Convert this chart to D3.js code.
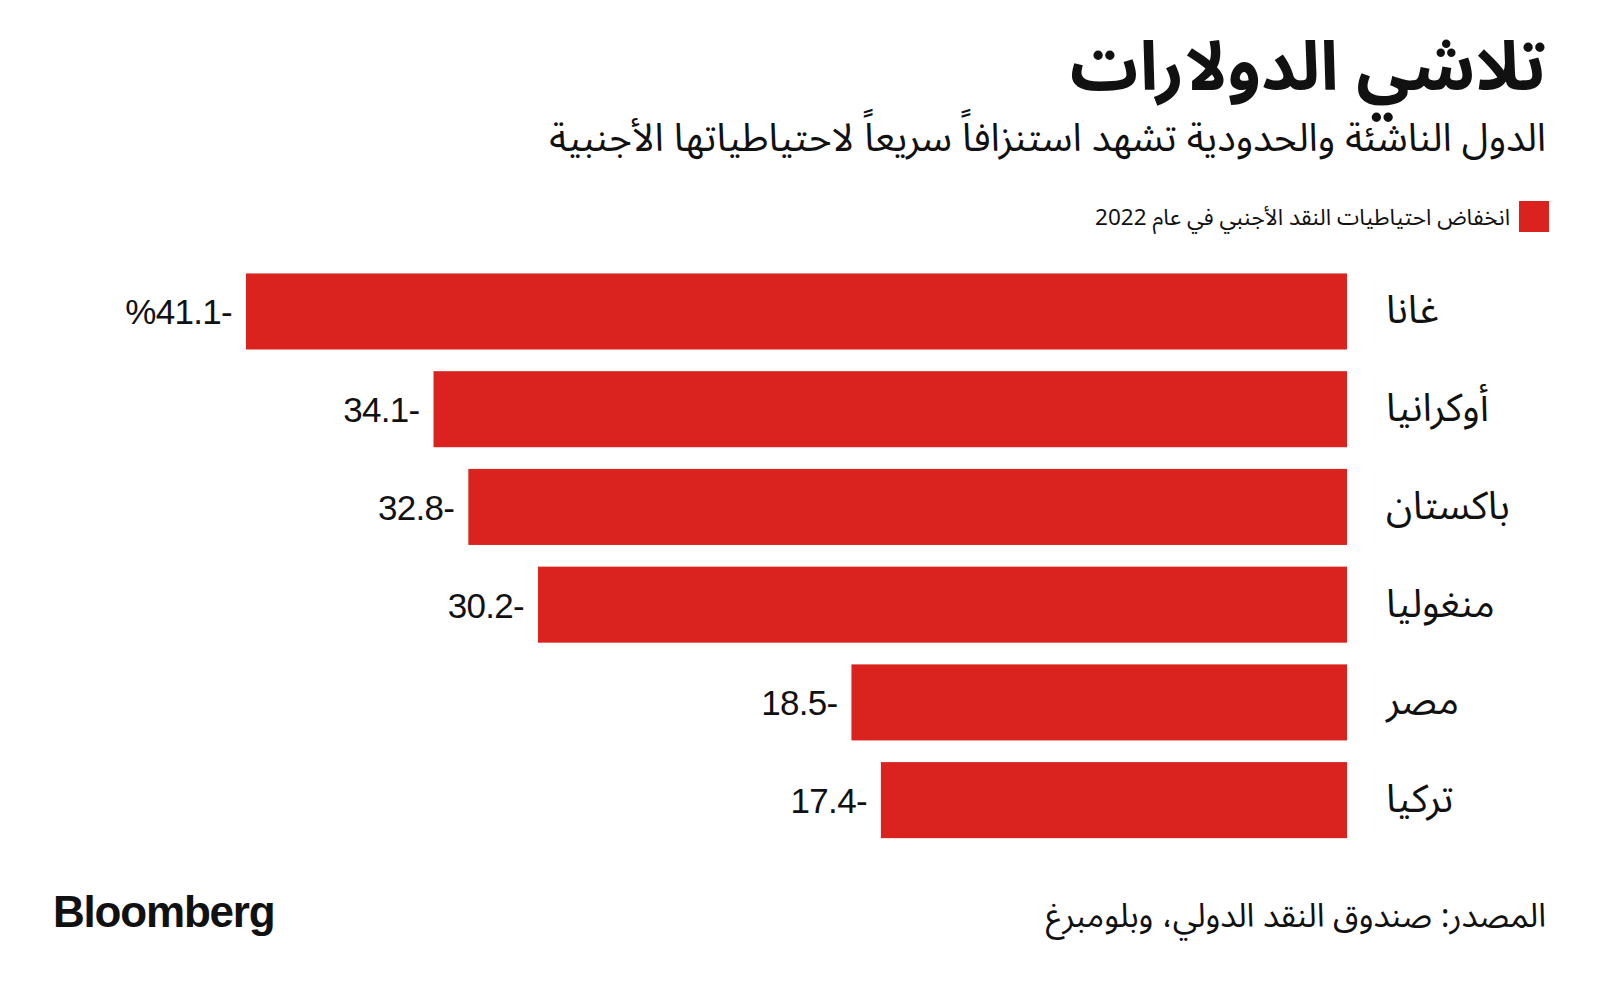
<!DOCTYPE html>
<html lang="ar">
<head>
<meta charset="UTF-8">
<title>تلاشي الدولارات</title>
<script src="https://cdnjs.cloudflare.com/ajax/libs/d3/7.8.5/d3.min.js"></script>
<style>
  body { margin: 0; background: #fff; }
  .ar { font-family: "Noto Sans Arabic", "DejaVu Sans", sans-serif; fill: #111; }
  .num { font-family: "Liberation Sans", Arial, sans-serif; fill: #111; }
</style>
</head>
<body>
<svg width="1600" height="992"></svg>
<script>
// data
var countries = ["غانا", "أوكرانيا", "باكستان", "منغوليا", "مصر", "تركيا"];
var values = [-41.1, -34.1, -32.8, -30.2, -18.5, -17.4];
var valueLabels = ["%41.1-", "34.1-", "32.8-", "30.2-", "18.5-", "17.4-"];

var title = "تلاشي الدولارات";
var subtitle = "الدول الناشئة والحدودية تشهد استنزافاً سريعاً لاحتياطياتها الأجنبية";
var legendLabel = "انخفاض احتياطيات النقد الأجنبي في عام 2022";
var source = "المصدر: صندوق النقد الدولي، وبلومبرغ";

var red = "#da231e";

var svg = d3.select("svg");

var data = countries.map(function(c, i) {
    return { country: c, value: values[i], label: valueLabels[i] };
});

var x = d3.scaleLinear().domain([-41.1, 0]).range([246, 1347]);
var y = d3.scaleBand()
    .domain(countries)
    .range([262.6, 849])
    .paddingInner(0.222)
    .paddingOuter(0.111);

// header
svg.append("text").attr("class", "ar")
    .attr("x", 1546).attr("y", 90)
    .attr("direction", "rtl").attr("text-anchor", "start")
    .style("font-size", "68px").style("font-weight", "bold")
    .text(title);

svg.append("text").attr("class", "ar")
    .attr("x", 1546).attr("y", 151)
    .attr("direction", "rtl").attr("text-anchor", "start")
    .style("font-size", "38.8px")
    .text(subtitle);

// legend
svg.append("rect")
    .attr("x", 1519).attr("y", 201)
    .attr("width", 30).attr("height", 31)
    .attr("fill", red);

svg.append("text").attr("class", "ar")
    .attr("x", 1510).attr("y", 225)
    .attr("direction", "rtl").attr("text-anchor", "start")
    .style("font-size", "22.5px")
    .text(legendLabel);

// bars
svg.selectAll(".bar")
    .data(data)
    .enter().append("rect")
    .attr("class", "bar")
    .attr("x", function(d) { return x(d.value); })
    .attr("y", function(d) { return y(d.country); })
    .attr("width", function(d) { return x(0) - x(d.value); })
    .attr("height", y.bandwidth())
    .attr("fill", red);

svg.selectAll(".val")
    .data(data)
    .enter().append("text")
    .attr("class", "num val")
    .attr("x", function(d) { return x(d.value) - 14; })
    .attr("y", function(d) { return y(d.country) + y.bandwidth() / 2 + 13; })
    .attr("text-anchor", "end")
    .style("font-size", "35px")
    .style("letter-spacing", "-0.7px")
    .text(function(d) { return d.label; });

svg.selectAll(".country")
    .data(data)
    .enter().append("text")
    .attr("class", "ar country")
    .attr("x", 1386)
    .attr("y", function(d) { return y(d.country) + y.bandwidth() / 2 + 12; })
    .attr("direction", "rtl").attr("text-anchor", "end")
    .style("font-size", "39px")
    .text(function(d) { return d.country; });

// footer
svg.append("text").attr("class", "num")
    .attr("x", 53).attr("y", 927)
    .style("font-size", "44px").style("font-weight", "bold")
    .style("letter-spacing", "-1.2px")
    .text("Bloomberg");

svg.append("text").attr("class", "ar")
    .attr("x", 1546).attr("y", 927)
    .attr("direction", "rtl").attr("text-anchor", "start")
    .style("font-size", "33px")
    .text(source);
</script>
</body>
</html>
